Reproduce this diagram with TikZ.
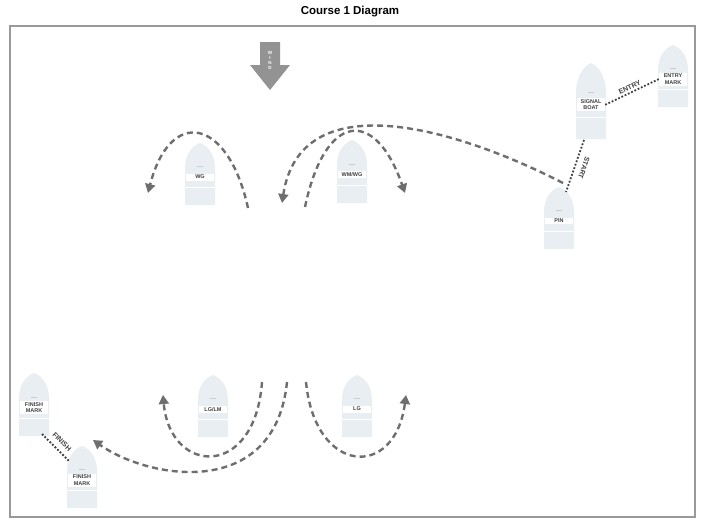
\documentclass[tikz,border=0pt]{standalone}
\usepackage{fontspec}
\setmainfont{Liberation Sans}
\usetikzlibrary{arrows.meta,calc}
\definecolor{boatc}{HTML}{E9EEF2}
\definecolor{dashc}{HTML}{6E6E6E}
\newcommand\myboat[5]{% name, x, top, height, label
  \fill[boatc] ({#2-15},{#3+#4}) -- ({#2-15},{#3+0.4*#4}) .. controls ({#2-15},{#3+0.15*#4}) and ({#2-6},{#3+0.03*#4}) .. ({#2},{#3}) .. controls ({#2+6},{#3+0.03*#4}) and ({#2+15},{#3+0.15*#4}) .. ({#2+15},{#3+0.4*#4}) -- ({#2+15},{#3+#4}) -- cycle;
  \draw[white,line width=0.5pt] ({#2-15},{#3+0.72*#4}) -- ({#2+15},{#3+0.72*#4});
  \draw[gray!40,line width=0.3pt] ({#2-3},{#3+0.38*#4}) -- ({#2+3},{#3+0.38*#4});
  \node[lbl] (#1) at ({#2},{#3+0.55*#4}) {#5};
}
\begin{document}
\begin{tikzpicture}[x=1pt,y=-1pt,
  lbl/.style={fill=white,inner sep=1.5pt,minimum width=28pt,font=\fontsize{5.5}{6.2}\selectfont\bfseries,text=black!75,align=center},
  curve/.style={draw=dashc,line width=2.4pt,dash pattern=on 6pt off 4pt,-{Triangle[length=9pt,width=10pt]}},
  dotl/.style={black!75,line width=1.8pt,dash pattern=on 1.8pt off 1.8pt},
  tag/.style={font=\fontsize{7}{7}\selectfont\bfseries,text=black!75,inner sep=1pt}]
\useasboundingbox (0,0) rectangle (712,525);
\node[font=\fontsize{11.5}{12}\selectfont\bfseries] (title) at (350,12) {Course 1 Diagram};
\draw[gray!80,line width=1.6pt] (10,26) rectangle (695,517);
% wind arrow
\fill[gray!85] (260,42) -- (280,42) -- (280,65) -- (290,65) -- (270,90) -- (250,65) -- (260,65) -- cycle;
\node[font=\fontsize{4.5}{5}\selectfont\bfseries,text=white,align=center] (wind) at (270,60) {W\\I\\N\\D};
% boats
\myboat{wg}{200}{143}{62}{WG}
\myboat{wm}{352}{140}{63}{WM/WG}
\myboat{sig}{591}{63}{76}{SIGNAL\\BOAT}
\myboat{ent}{673}{45}{62}{ENTRY\\MARK}
\myboat{pin}{559}{187}{62}{PIN}
\myboat{lglm}{213}{375}{62}{LG/LM}
\myboat{lg}{357}{375}{62}{LG}
\myboat{fm1}{34}{373}{63}{FINISH\\MARK}
\myboat{fm2}{82}{446}{62}{FINISH\\MARK}
% coordinates for curve ends
\coordinate (a1) at (248,208); \coordinate (a2) at (148,193);
\coordinate (b1) at (305,207); \coordinate (b2) at (405,193);
\coordinate (c1) at (563,183); \coordinate (c2) at (282,203);
\coordinate (d1) at (262,382); \coordinate (d2) at (163,395);
\coordinate (e1) at (287,382); \coordinate (e2) at (93,440);
\coordinate (f1) at (306,382); \coordinate (f2) at (406,395);
\draw[curve] (a1) .. controls (228,117) and (170,107) .. (a2);
\draw[curve] (b1) .. controls (325,112) and (375,107) .. (b2);
\draw[curve] (c1) .. controls (450,125) and (300,85) .. (c2);
\draw[curve] (d1) .. controls (255,480) and (170,475) .. (d2);
\draw[curve] (e1) .. controls (275,500) and (150,480) .. (e2);
\draw[curve] (f1) .. controls (315,475) and (395,480) .. (f2);
% connectors
\coordinate (s1) at (584,140); \coordinate (s2) at (566,192);
\draw[dotl] (sig.east) -- (ent.west) node[tag,midway,sloped,above=1pt] {ENTRY};
\draw[dotl] (s1) -- (s2);
\node[tag,rotate=-109] (start) at (584,168) {START};
\coordinate (g1) at (42,434); \coordinate (g2) at (70,462);
\draw[dotl] (g1) -- (g2);
\node[tag,rotate=-45] (fin) at (62,442) {FINISH};
\end{tikzpicture}
\end{document}
